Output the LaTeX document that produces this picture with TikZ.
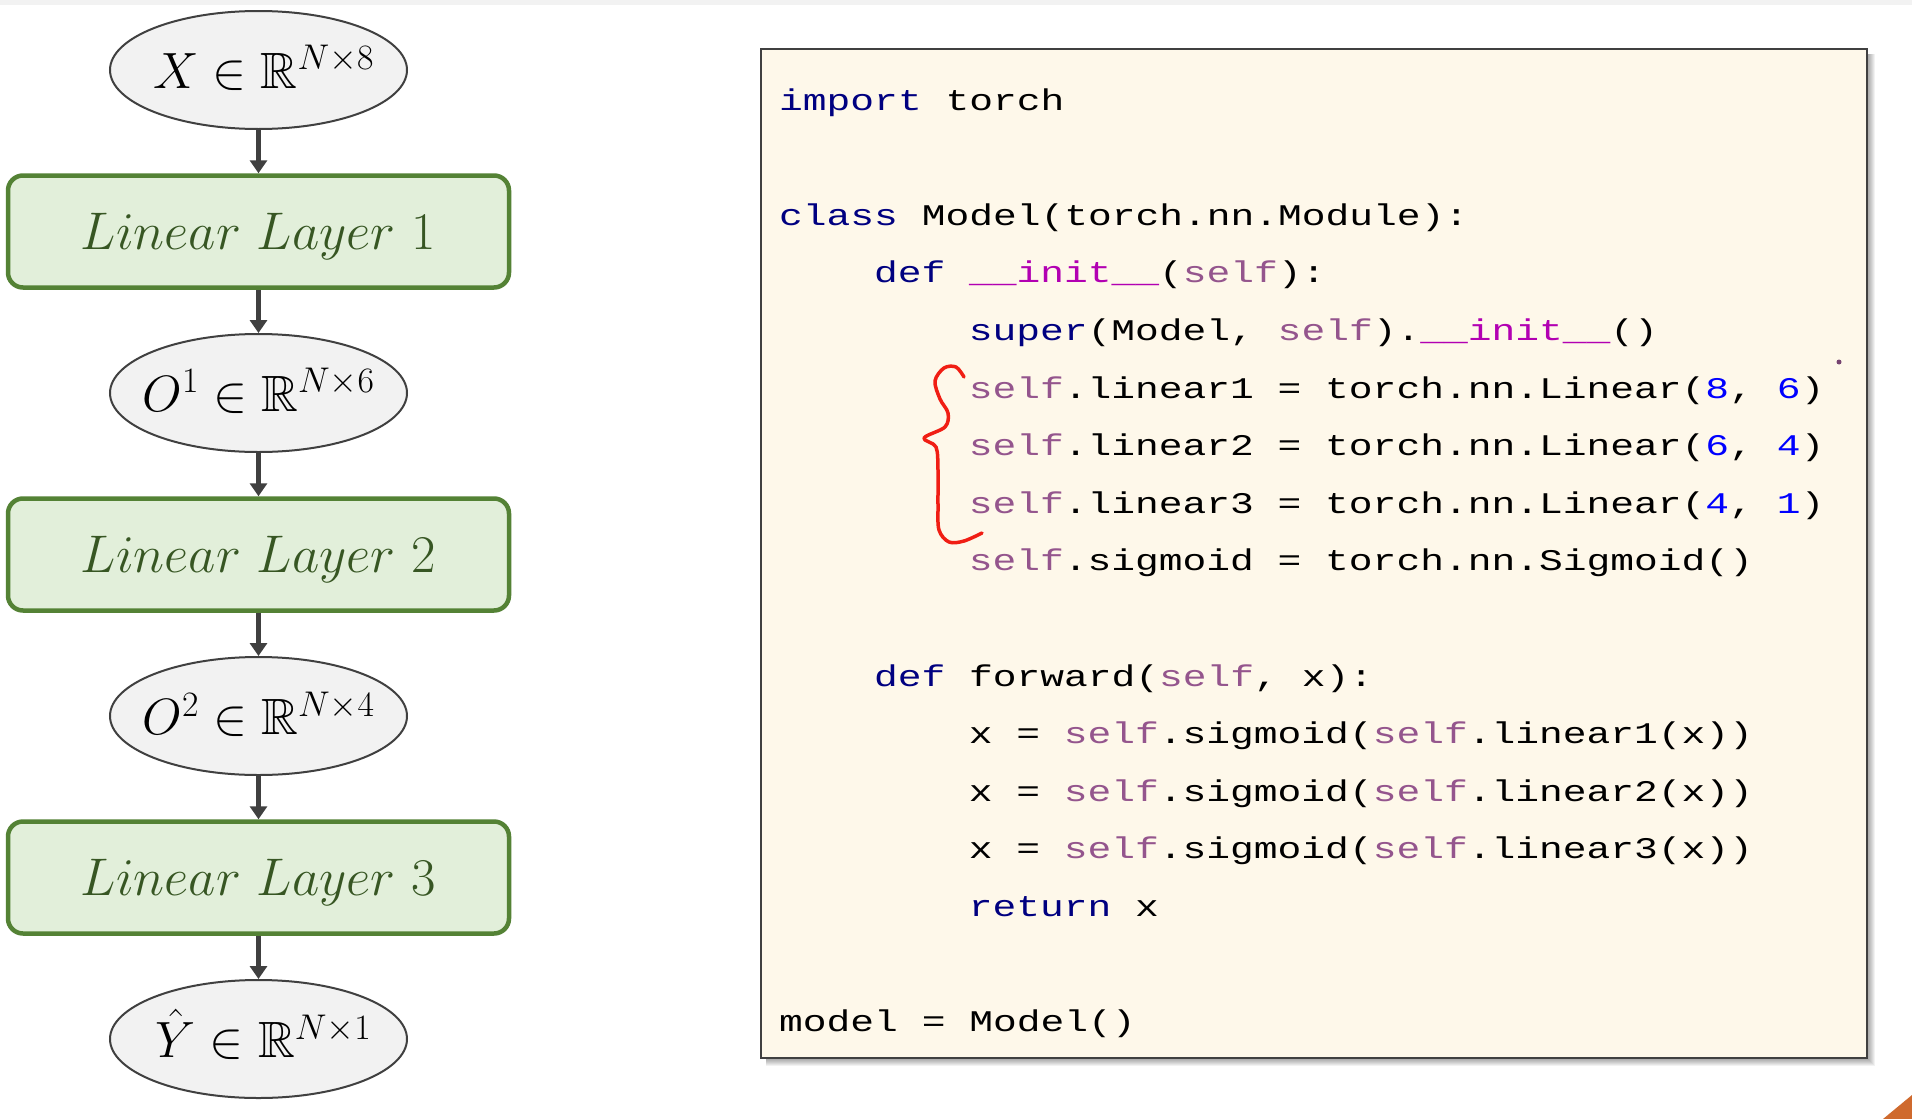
\RequirePackage{fix-cm}
\documentclass[tikz,border=0pt]{standalone}
\usepackage{amsmath,amssymb}
\usepackage{fontspec}
\usetikzlibrary{arrows.meta,shapes.geometric}
\newfontfamily\codefont[FakeStretch=1.32]{Liberation Mono}
\definecolor{kwc}{HTML}{000080}
\definecolor{selfc}{HTML}{94558D}
\definecolor{magicc}{HTML}{B200B2}
\definecolor{numc}{HTML}{0000FF}
\definecolor{ellfill}{HTML}{F2F2F2}
\definecolor{darkline}{HTML}{404040}
\definecolor{boxfill}{HTML}{E2EFDA}
\definecolor{boxline}{HTML}{548235}
\definecolor{boxtext}{HTML}{375623}
\definecolor{cream}{HTML}{FEF8EA}
\definecolor{bracered}{HTML}{F01E14}
\definecolor{cornerorange}{HTML}{CF6A2E}
\newcommand\kw[1]{\textcolor{kwc}{#1}}
\newcommand\slf{\textcolor{selfc}{self}}
\newcommand\mgc{\textcolor{magicc}{\_\_init\_\_}}
\newcommand\cnum[1]{\textcolor{numc}{#1}}
\begin{document}
\begin{tikzpicture}[x=1pt,y=-1pt,
  tensor/.style={ellipse, draw=darkline, line width=2pt, fill=ellfill,
    minimum width=297pt, minimum height=118pt, inner sep=0pt,
    text height=39pt, text depth=2pt,
    font=\fontsize{51}{58}\selectfont},
  layerbox/.style={rectangle, rounded corners=15pt, draw=boxline, line width=4.5pt,
    fill=boxfill, minimum width=501pt, minimum height=112pt, inner sep=0pt,
    text height=37pt, text depth=2pt, text=boxtext,
    font=\fontsize{53}{60}\selectfont},
  flow/.style={draw=darkline, line width=5pt, -{Triangle[width=17pt,length=13pt]}},
  codeline/.style={anchor=base west, inner sep=0pt,
    font=\codefont\fontsize{30}{38}\selectfont}
]
\useasboundingbox (0,0) rectangle (1912,1119);
\fill[white] (0,0) rectangle (1912,1119);
\fill[ellfill] (0,0) rectangle (1912,5);

% left flow
\node[tensor] (e1) at (258.5,70) {\makebox[0pt]{\hspace{10pt}$X\in\mathbb{R}^{N\times 8}$}};
\node[layerbox] (b1) at (258.5,231.5) {$Linear\ Layer\ 1$};
\node[tensor] (e2) at (258.5,393) {\makebox[0pt]{$O^{1}\in\mathbb{R}^{N\times 6}$}};
\node[layerbox] (b2) at (258.5,554.5) {$Linear\ Layer\ 2$};
\node[tensor] (e3) at (258.5,716) {\makebox[0pt]{$O^{2}\in\mathbb{R}^{N\times 4}$}};
\node[layerbox] (b3) at (258.5,877.5) {$Linear\ Layer\ 3$};
\node[tensor] (e4) at (258.5,1039) {\makebox[0pt]{\hspace{10pt}$\hat{Y}\in\mathbb{R}^{N\times 1}$}};

\draw[flow] (e1) -- (b1);
\draw[flow] (b1) -- (e2);
\draw[flow] (e2) -- (b2);
\draw[flow] (b2) -- (e3);
\draw[flow] (e3) -- (b3);
\draw[flow] (b3) -- (e4);

% code panel shadow
\foreach \k in {1,...,8}{
  \fill[black, opacity=0.05] (766,54) rectangle (1867+\k,1058+\k);
}
\node[rectangle, draw=darkline, line width=2.5pt, fill=cream,
  minimum width=1106pt, minimum height=1009pt, inner sep=0pt] (code) at (1314,553.5) {};

% code lines
\node[codeline] (l1) at (779,110) {\kw{import} torch};
\node[codeline] (l2) at (779,225.2) {\kw{class} Model(torch.nn.Module):};
\node[codeline] (l3) at (873.8,282.8) {\kw{def} \mgc(\slf):};
\node[codeline] (l4) at (968.6,340.4) {\kw{super}(Model, \slf).\mgc()};
\node[codeline] (l5) at (968.6,398) {\slf.linear1 = torch.nn.Linear(\cnum{8}, \cnum{6})};
\node[codeline] (l6) at (968.6,455.6) {\slf.linear2 = torch.nn.Linear(\cnum{6}, \cnum{4})};
\node[codeline] (l7) at (968.6,513.2) {\slf.linear3 = torch.nn.Linear(\cnum{4}, \cnum{1})};
\node[codeline] (l8) at (968.6,570.8) {\slf.sigmoid = torch.nn.Sigmoid()};
\node[codeline] (l9) at (873.8,686) {\kw{def} forward(\slf, x):};
\node[codeline] (l10) at (968.6,743.6) {x = \slf.sigmoid(\slf.linear1(x))};
\node[codeline] (l11) at (968.6,801.2) {x = \slf.sigmoid(\slf.linear2(x))};
\node[codeline] (l12) at (968.6,858.8) {x = \slf.sigmoid(\slf.linear3(x))};
\node[codeline] (l13) at (968.6,916.4) {\kw{return} x};
\node[codeline] (l14) at (779,1031.6) {model = Model()};

% red hand-drawn brace
\draw[bracered, line width=3.5pt, line cap=round, line join=round]
  plot[smooth, tension=0.55] coordinates {(964,377) (956,367) (944,368) (935,381) (940,399) (948,413) (945,427) (924,438) (936,447) (938,470) (938,505) (939,530) (949,542) (964,541) (982,533)};

% tiny mark
\fill[selfc!80!black] (1839,362) circle (2.5pt);

% corner artifact
\fill[cornerorange] (1883,1119) -- (1912,1095) -- (1912,1119) -- cycle;
\end{tikzpicture}
\end{document}
